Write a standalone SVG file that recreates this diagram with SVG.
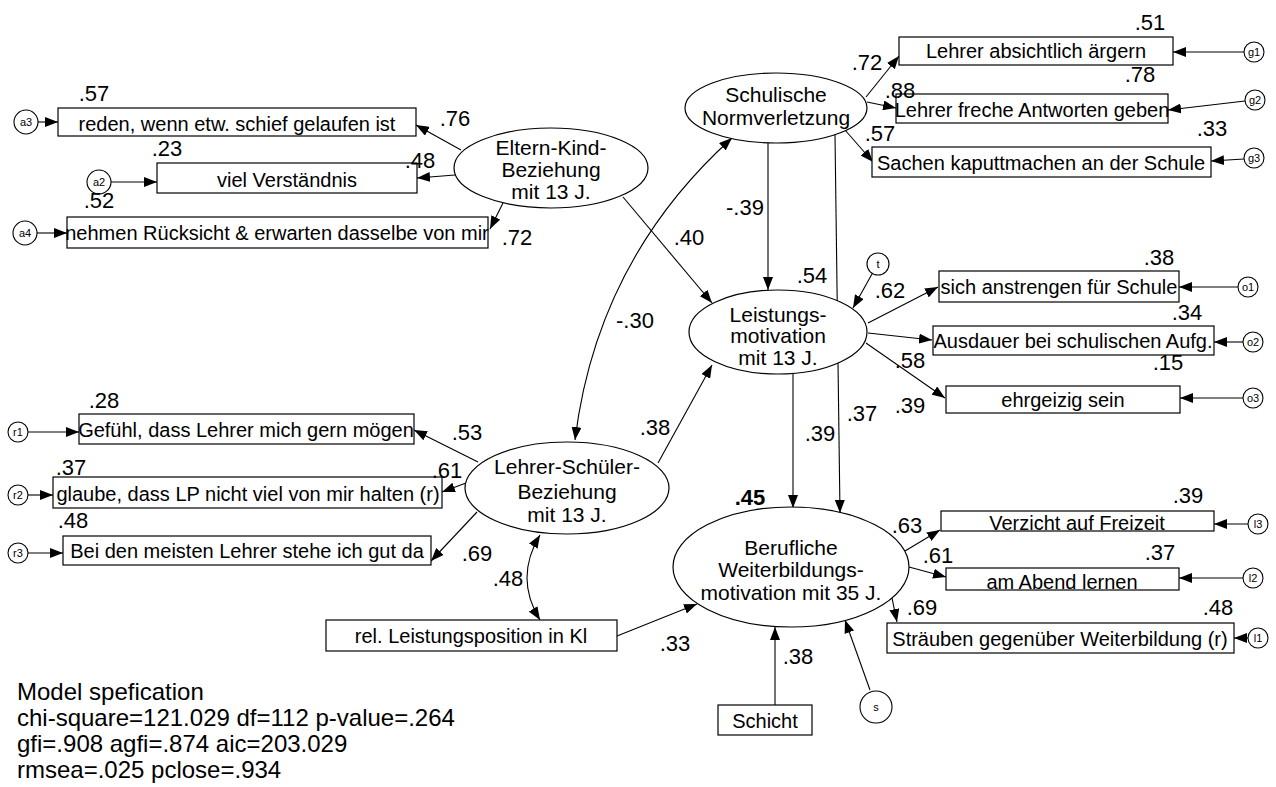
<svg xmlns="http://www.w3.org/2000/svg" width="1276" height="787" viewBox="0 0 1276 787">
<style>
  text { font-family: "Liberation Sans", Arial, sans-serif; fill: #000; }
  .box { fill: #fff; stroke: #000; stroke-width: 1.2; }
  .ell { fill: #fff; stroke: #000; stroke-width: 1.2; }
  .err { fill: #fff; stroke: #000; stroke-width: 1.1; }
  .bt { font-size: 20px; text-anchor: middle; }
  .et { font-size: 21px; text-anchor: middle; }
  .ct { font-size: 11px; text-anchor: middle; }
  .lb { font-size: 22px; text-anchor: middle; }
  .ms { font-size: 24px; }
  .cn { fill: none; stroke: #000; stroke-width: 1.1; marker-end: url(#ah); }
  .cv { fill: none; stroke: #000; stroke-width: 1.1; marker-start: url(#ah2); marker-end: url(#ah2); }
</style>
<defs>
  <marker id="ah" markerWidth="13" markerHeight="10" refX="13" refY="5" orient="auto" markerUnits="userSpaceOnUse">
    <path d="M0,0 L13,5 L0,10 z" fill="#000"/>
  </marker>
  <marker id="ah2" markerWidth="13" markerHeight="10" refX="13" refY="5" orient="auto-start-reverse" markerUnits="userSpaceOnUse">
    <path d="M0,0 L13,5 L0,10 z" fill="#000"/>
  </marker>
</defs>
<rect width="1276" height="787" fill="#fff"/>

<g id="connectors">
  <line class="cn" x1="38" y1="122" x2="58" y2="122"/>
  <line class="cn" x1="111" y1="182" x2="157" y2="182"/>
  <line class="cn" x1="37" y1="233" x2="67" y2="233"/>
  <line class="cn" x1="461" y1="150" x2="416" y2="125"/>
  <line class="cn" x1="455" y1="175" x2="417" y2="178"/>
  <line class="cn" x1="503" y1="203" x2="490" y2="229"/>
  <line class="cn" x1="623" y1="197" x2="712" y2="303"/>
  <line class="cn" x1="866" y1="97" x2="899" y2="56"/>
  <line class="cn" x1="867" y1="102" x2="896" y2="108"/>
  <line class="cn" x1="845" y1="130" x2="873" y2="162"/>
  <line class="cn" x1="1244" y1="52" x2="1173" y2="52"/>
  <line class="cn" x1="1245" y1="101" x2="1168" y2="110"/>
  <line class="cn" x1="1244" y1="159" x2="1211" y2="161"/>
  <line class="cn" x1="768" y1="143" x2="768" y2="290"/>
  <line class="cn" x1="835" y1="135" x2="840" y2="513"/>
  <path class="cv" d="M575,440 Q597,260 732,138"/>
  <line class="cn" x1="872" y1="274" x2="853" y2="308"/>
  <line class="cn" x1="868" y1="323" x2="938" y2="287"/>
  <line class="cn" x1="868" y1="333" x2="932" y2="340"/>
  <line class="cn" x1="866" y1="343" x2="945" y2="398"/>
  <line class="cn" x1="1238" y1="287" x2="1179" y2="287"/>
  <line class="cn" x1="1243" y1="342" x2="1214" y2="342"/>
  <line class="cn" x1="1243" y1="398" x2="1180" y2="398"/>
  <line class="cn" x1="478" y1="462" x2="414" y2="430"/>
  <line class="cn" x1="466" y1="483" x2="442" y2="492"/>
  <line class="cn" x1="477" y1="512" x2="431" y2="561"/>
  <line class="cn" x1="28" y1="432" x2="79" y2="432"/>
  <line class="cn" x1="28" y1="495" x2="53" y2="495"/>
  <line class="cn" x1="28" y1="553" x2="63" y2="553"/>
  <line class="cn" x1="658" y1="463" x2="712" y2="365"/>
  <path class="cv" d="M540,535 Q514,578 540,620"/>
  <line class="cn" x1="793" y1="374" x2="793" y2="508"/>
  <line class="cn" x1="617" y1="636" x2="697" y2="604"/>
  <line class="cn" x1="775" y1="705" x2="775" y2="627"/>
  <line class="cn" x1="870" y1="690" x2="845" y2="620"/>
  <line class="cn" x1="905" y1="551" x2="940" y2="530"/>
  <line class="cn" x1="909" y1="567" x2="946" y2="577"/>
  <line class="cn" x1="892" y1="598" x2="897" y2="622"/>
  <line class="cn" x1="1248" y1="524" x2="1214" y2="524"/>
  <line class="cn" x1="1243" y1="578" x2="1179" y2="578"/>
  <line class="cn" x1="1248" y1="638" x2="1234" y2="638"/>
</g>

<g id="eltern-kind">
  <ellipse class="ell" cx="551" cy="168" rx="97" ry="40"/>
  <text class="et" x="551" y="155">Eltern-Kind-</text>
  <text class="et" x="551" y="177">Beziehung</text>
  <text class="et" x="551" y="199">mit 13 J.</text>
</g>
<g id="schul-norm">
  <ellipse class="ell" cx="776" cy="108" rx="91" ry="35"/>
  <text class="et" x="776" y="102">Schulische</text>
  <text class="et" x="776" y="125">Normverletzung</text>
</g>
<g id="leistung">
  <ellipse class="ell" cx="778" cy="332" rx="89" ry="42"/>
  <text class="et" x="778" y="322">Leistungs-</text>
  <text class="et" x="778" y="343">motivation</text>
  <text class="et" x="778" y="365">mit 13 J.</text>
</g>
<g id="lehrer-schueler">
  <ellipse class="ell" cx="567" cy="488" rx="102" ry="46"/>
  <text class="et" x="567" y="474">Lehrer-Schüler-</text>
  <text class="et" x="567" y="499">Beziehung</text>
  <text class="et" x="567" y="522">mit 13 J.</text>
</g>
<g id="beruflich">
  <ellipse class="ell" cx="791" cy="567" rx="118" ry="60"/>
  <text class="et" x="791" y="555">Berufliche</text>
  <text class="et" x="791" y="577">Weiterbildungs-</text>
  <text class="et" x="791" y="600">motivation mit 35 J.</text>
</g>

<g id="a3"><circle class="err" cx="26" cy="122" r="12"/><text class="ct" x="26" y="126">a3</text></g>
<g id="a2"><circle class="err" cx="99" cy="182" r="12"/><text class="ct" x="99" y="186">a2</text></g>
<g id="a4"><circle class="err" cx="25" cy="233" r="12"/><text class="ct" x="25" y="237">a4</text></g>
<g id="box-reden"><rect class="box" x="58" y="108" width="358" height="28"/><text class="bt" x="237" y="131">reden, wenn etw. schief gelaufen ist</text></g>
<g id="box-viel"><rect class="box" x="157" y="163" width="260" height="30"/><text class="bt" x="287" y="187">viel Verständnis</text></g>
<g id="box-nehmen"><rect class="box" x="67" y="217" width="421" height="31"/><text class="bt" x="277" y="240">nehmen Rücksicht &amp; erwarten dasselbe von mir</text></g>

<g id="g1"><circle class="err" cx="1254" cy="52" r="10"/><text class="ct" x="1254" y="56">g1</text></g>
<g id="g2"><circle class="err" cx="1255" cy="100" r="10"/><text class="ct" x="1255" y="104">g2</text></g>
<g id="g3"><circle class="err" cx="1254" cy="158" r="10"/><text class="ct" x="1254" y="162">g3</text></g>
<g id="box-g1"><rect class="box" x="899" y="37" width="274" height="28"/><text class="bt" x="1036" y="58">Lehrer absichtlich ärgern</text></g>
<g id="box-g2"><rect class="box" x="896" y="94" width="272" height="29"/><text class="bt" x="1032" y="117">Lehrer freche Antworten geben</text></g>
<g id="box-g3"><rect class="box" x="872" y="147" width="339" height="30"/><text class="bt" x="1041" y="170">Sachen kaputtmachen an der Schule</text></g>

<g id="t"><circle class="err" cx="878" cy="264" r="11"/><text class="ct" x="878" y="268">t</text></g>
<g id="o1"><circle class="err" cx="1248" cy="287" r="10"/><text class="ct" x="1248" y="291">o1</text></g>
<g id="o2"><circle class="err" cx="1253" cy="342" r="10"/><text class="ct" x="1253" y="346">o2</text></g>
<g id="o3"><circle class="err" cx="1253" cy="398" r="10"/><text class="ct" x="1253" y="402">o3</text></g>
<g id="box-o1"><rect class="box" x="939" y="271" width="240" height="31"/><text class="bt" x="1059" y="294">sich anstrengen für Schule</text></g>
<g id="box-o2"><rect class="box" x="933" y="326" width="281" height="29"/><text class="bt" x="1073" y="348">Ausdauer bei schulischen Aufg.</text></g>
<g id="box-o3"><rect class="box" x="946" y="386" width="234" height="27"/><text class="bt" x="1063" y="407">ehrgeizig sein</text></g>

<g id="r1"><circle class="err" cx="18" cy="432" r="10"/><text class="ct" x="18" y="436">r1</text></g>
<g id="r2"><circle class="err" cx="18" cy="495" r="10"/><text class="ct" x="18" y="499">r2</text></g>
<g id="r3"><circle class="err" cx="18" cy="553" r="10"/><text class="ct" x="18" y="557">r3</text></g>
<g id="box-r1"><rect class="box" x="79" y="414" width="335" height="30"/><text class="bt" x="246" y="437">Gefühl, dass Lehrer mich gern mögen</text></g>
<g id="box-r2"><rect class="box" x="53" y="477" width="389" height="31"/><text class="bt" x="248" y="501">glaube, dass LP nicht viel von mir halten (r)</text></g>
<g id="box-r3"><rect class="box" x="63" y="536" width="368" height="29"/><text class="bt" x="247" y="558">Bei den meisten Lehrer stehe ich gut da</text></g>

<g id="box-rel"><rect class="box" x="326" y="620" width="291" height="31"/><text class="bt" x="471" y="643">rel. Leistungsposition in Kl</text></g>
<g id="box-schicht"><rect class="box" x="718" y="705" width="94" height="30"/><text class="bt" x="765" y="728">Schicht</text></g>
<g id="s"><circle class="err" cx="876" cy="707" r="16"/><text class="ct" x="876" y="711">s</text></g>

<g id="l3"><circle class="err" cx="1258" cy="524" r="10"/><text class="ct" x="1258" y="528">l3</text></g>
<g id="l2"><circle class="err" cx="1253" cy="578" r="10"/><text class="ct" x="1253" y="582">l2</text></g>
<g id="l1"><circle class="err" cx="1258" cy="638" r="10"/><text class="ct" x="1258" y="642">l1</text></g>
<g id="box-l3"><rect class="box" x="941" y="511" width="273" height="20"/><text class="bt" x="1077" y="530">Verzicht auf Freizeit</text></g>
<g id="box-l2"><rect class="box" x="946" y="568" width="233" height="22"/><text class="bt" x="1062" y="589">am Abend lernen</text></g>
<g id="box-l1"><rect class="box" x="887" y="623" width="347" height="30"/><text class="bt" x="1060" y="646">Sträuben gegenüber Weiterbildung (r)</text></g>

<g id="coefficients">
  <text class="lb" x="94" y="101">.57</text>
  <text class="lb" x="455" y="126">.76</text>
  <text class="lb" x="167" y="156">.23</text>
  <text class="lb" x="420" y="168">.48</text>
  <text class="lb" x="99" y="208">.52</text>
  <text class="lb" x="517" y="245">.72</text>
  <text class="lb" x="689" y="245">.40</text>
  <text class="lb" x="635" y="328">-.30</text>
  <text class="lb" x="867" y="70">.72</text>
  <text class="lb" x="1150" y="30">.51</text>
  <text class="lb" x="900" y="98">.88</text>
  <text class="lb" x="1140" y="82">.78</text>
  <text class="lb" x="880" y="141">.57</text>
  <text class="lb" x="1212" y="136">.33</text>
  <text class="lb" x="745" y="215">-.39</text>
  <text class="lb" x="812" y="283">.54</text>
  <text class="lb" x="890" y="298">.62</text>
  <text class="lb" x="1159" y="265">.38</text>
  <text class="lb" x="1187" y="320">.34</text>
  <text class="lb" x="910" y="368">.58</text>
  <text class="lb" x="1168" y="370">.15</text>
  <text class="lb" x="910" y="413">.39</text>
  <text class="lb" x="862" y="421">.37</text>
  <text class="lb" x="820" y="441">.39</text>
  <text class="lb" x="655" y="435">.38</text>
  <text class="lb" x="104" y="408">.28</text>
  <text class="lb" x="467" y="440">.53</text>
  <text class="lb" x="71" y="475">.37</text>
  <text class="lb" x="447" y="478">.61</text>
  <text class="lb" x="73" y="528">.48</text>
  <text class="lb" x="477" y="561">.69</text>
  <text class="lb" x="508" y="586">.48</text>
  <text class="lb" x="750" y="505" font-weight="bold">.45</text>
  <text class="lb" x="907" y="533">.63</text>
  <text class="lb" x="1188" y="503">.39</text>
  <text class="lb" x="938" y="563">.61</text>
  <text class="lb" x="1160" y="560">.37</text>
  <text class="lb" x="922" y="615">.69</text>
  <text class="lb" x="1218" y="615">.48</text>
  <text class="lb" x="675" y="651">.33</text>
  <text class="lb" x="798" y="664">.38</text>
</g>

<g id="model-spec">
  <text class="ms" x="17" y="700">Model spefication</text>
  <text class="ms" x="17" y="726">chi-square=121.029 df=112 p-value=.264</text>
  <text class="ms" x="17" y="752">gfi=.908 agfi=.874 aic=203.029</text>
  <text class="ms" x="17" y="778">rmsea=.025 pclose=.934</text>
</g>
</svg>
